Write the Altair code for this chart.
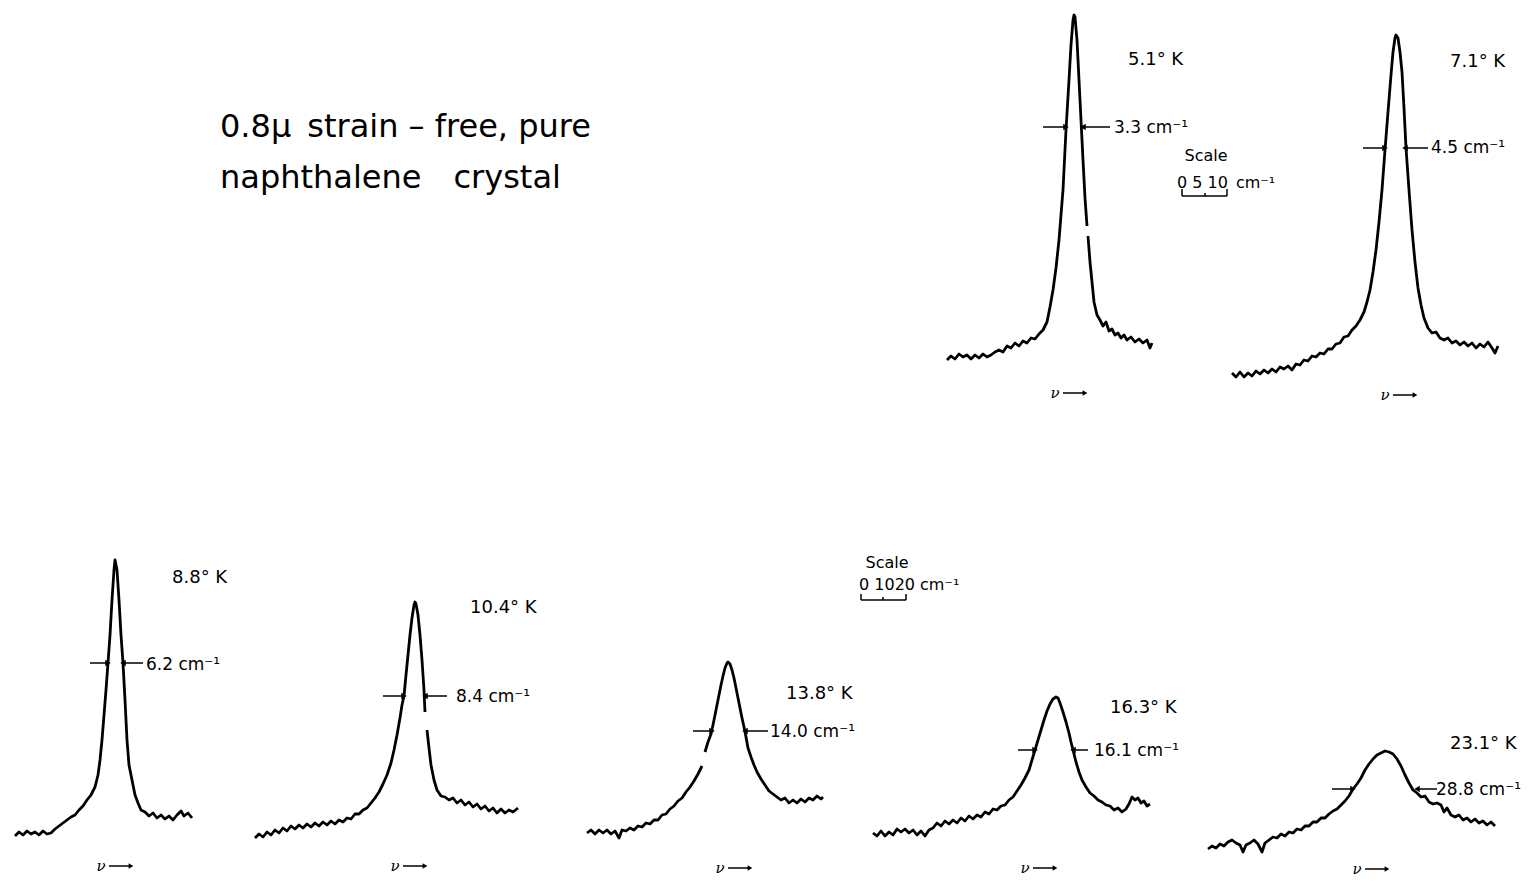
import altair as alt
import pandas as pd

c1_x = [947, 951, 955, 959, 963, 967, 971, 975, 979, 983, 987, 991, 995, 999, 1003, 1007, 1011, 1015, 1019, 1023, 1027, 1031, 1035, 1039, 1043, 1047, 1050, 1053, 1056, 1059, 1061, 1063, 1066, 1069, 1071, 1073, 1074, 1075, 1077, 1079, 1081, 1083, 1085, 1087, 1088, 1090, 1092, 1094, 1097, 1100, 1103, 1106, 1109, 1112, 1115, 1118, 1121, 1124, 1127, 1131, 1135, 1139, 1143, 1147, 1150, 1152]
c1_y = [360, 356, 359, 354, 357, 355, 359, 355, 358, 354, 357, 355, 352, 350, 352, 346, 348, 343, 346, 341, 343, 338, 339, 334, 330, 322, 307, 290, 268, 240, 215, 190, 130, 80, 45, 20, 15, 17, 40, 80, 120, 160, 198, 226, 236, 262, 282, 302, 315, 320, 326, 322, 331, 329, 335, 333, 338, 335, 340, 337, 342, 339, 343, 340, 348, 343]
c1_breaks = [44]

c2_x = [1232, 1236, 1240, 1244, 1248, 1252, 1256, 1260, 1264, 1268, 1272, 1276, 1280, 1284, 1288, 1292, 1296, 1300, 1304, 1308, 1312, 1316, 1320, 1324, 1328, 1332, 1336, 1340, 1344, 1348, 1352, 1356, 1360, 1364, 1367, 1370, 1373, 1376, 1379, 1382, 1385, 1388, 1391, 1393, 1395, 1396, 1398, 1400, 1402, 1404, 1406, 1409, 1412, 1415, 1418, 1421, 1424, 1428, 1432, 1436, 1440, 1444, 1448, 1452, 1456, 1460, 1464, 1468, 1472, 1476, 1480, 1484, 1488, 1492, 1495, 1498]
c2_y = [373, 377, 372, 377, 373, 376, 371, 374, 370, 373, 369, 372, 367, 369, 366, 370, 364, 365, 360, 361, 356, 357, 353, 354, 349, 349, 344, 343, 337, 336, 330, 326, 320, 312, 302, 290, 272, 250, 222, 190, 150, 112, 75, 52, 38, 35, 38, 52, 72, 108, 148, 190, 230, 262, 288, 305, 318, 328, 333, 332, 338, 340, 338, 343, 341, 345, 342, 346, 343, 348, 344, 347, 342, 348, 353, 346]
c2_breaks = []

c3_x = [15, 19, 23, 27, 31, 35, 39, 43, 47, 51, 55, 59, 63, 67, 71, 75, 79, 83, 87, 91, 95, 98, 100, 102, 104, 106, 108, 110, 112, 114, 115, 117, 119, 121, 123, 125, 127, 129, 132, 135, 138, 141, 145, 149, 153, 157, 161, 165, 169, 173, 177, 181, 184, 188, 192]
c3_y = [836, 832, 835, 831, 834, 832, 835, 831, 834, 833, 829, 826, 823, 820, 817, 815, 810, 806, 800, 795, 787, 775, 760, 740, 715, 690, 663, 635, 600, 570, 560, 570, 600, 635, 663, 700, 740, 765, 780, 795, 803, 810, 812, 816, 813, 818, 815, 819, 816, 820, 815, 811, 816, 813, 818]
c3_breaks = []

c4_x = [255, 259, 263, 267, 271, 275, 279, 283, 287, 291, 295, 299, 303, 307, 311, 315, 319, 323, 327, 331, 335, 339, 343, 347, 351, 355, 359, 363, 367, 371, 375, 379, 383, 387, 391, 394, 397, 400, 402, 404, 406, 408, 410, 412, 414, 415, 416, 418, 420, 422, 424, 425, 427, 429, 431, 434, 437, 441, 445, 449, 453, 457, 461, 465, 469, 473, 477, 481, 485, 489, 493, 497, 501, 505, 509, 513, 518]
c4_y = [838, 834, 837, 832, 835, 830, 833, 828, 831, 826, 829, 825, 828, 824, 827, 823, 826, 822, 825, 821, 824, 820, 822, 818, 819, 814, 814, 810, 808, 803, 798, 792, 784, 775, 763, 750, 735, 718, 705, 696, 675, 655, 635, 618, 605, 602, 604, 615, 635, 660, 690, 712, 730, 748, 765, 780, 790, 796, 797, 800, 798, 803, 800, 805, 802, 807, 804, 809, 806, 811, 808, 813, 809, 813, 810, 812, 808]
c4_breaks = [52]

c5_x = [587, 591, 595, 599, 603, 607, 611, 615, 619, 622, 626, 630, 634, 638, 642, 646, 650, 654, 658, 662, 666, 670, 674, 678, 682, 686, 690, 694, 698, 702, 705, 708, 711, 713, 715, 717, 719, 721, 723, 725, 727, 728, 730, 732, 734, 736, 738, 740, 742, 744, 746, 748, 751, 754, 757, 761, 765, 769, 773, 777, 781, 785, 789, 793, 797, 801, 805, 809, 813, 817, 821, 823]
c5_y = [833, 830, 834, 830, 833, 830, 834, 831, 838, 830, 831, 828, 830, 826, 827, 823, 824, 820, 820, 815, 814, 809, 806, 801, 798, 792, 787, 781, 774, 766, 752, 742, 734, 725, 715, 705, 695, 685, 676, 668, 663, 662, 664, 670, 678, 688, 698, 708, 718, 727, 737, 748, 757, 765, 772, 779, 785, 791, 794, 797, 800, 798, 803, 800, 803, 799, 802, 798, 800, 796, 799, 797]
c5_breaks = [30]

c6_x = [873, 877, 881, 885, 889, 893, 897, 901, 905, 909, 913, 917, 921, 925, 929, 933, 937, 941, 945, 949, 953, 957, 961, 965, 969, 973, 977, 981, 985, 989, 993, 997, 1001, 1005, 1009, 1013, 1017, 1021, 1025, 1029, 1032, 1035, 1038, 1041, 1044, 1047, 1050, 1053, 1056, 1058, 1060, 1063, 1066, 1069, 1071, 1073, 1076, 1079, 1082, 1086, 1090, 1094, 1098, 1102, 1106, 1110, 1114, 1118, 1122, 1126, 1129, 1132, 1135, 1138, 1141, 1144, 1147, 1150]
c6_y = [833, 836, 831, 836, 832, 835, 829, 832, 829, 833, 830, 835, 831, 836, 830, 828, 823, 826, 821, 824, 820, 823, 818, 821, 816, 819, 815, 817, 812, 814, 809, 810, 806, 805, 800, 797, 791, 785, 778, 770, 760, 750, 740, 730, 720, 711, 704, 699, 697, 698, 703, 712, 722, 733, 742, 750, 762, 772, 780, 787, 793, 796, 800, 802, 805, 806, 810, 808, 812, 809, 804, 797, 800, 798, 803, 801, 806, 804]
c6_breaks = []

c7_x = [1208, 1212, 1216, 1220, 1224, 1228, 1232, 1236, 1240, 1243, 1246, 1250, 1254, 1258, 1262, 1265, 1269, 1273, 1277, 1281, 1285, 1289, 1293, 1297, 1301, 1305, 1309, 1313, 1317, 1321, 1325, 1329, 1333, 1337, 1341, 1345, 1349, 1353, 1357, 1361, 1365, 1369, 1373, 1377, 1381, 1385, 1389, 1393, 1397, 1401, 1405, 1409, 1413, 1417, 1421, 1425, 1429, 1433, 1437, 1441, 1444, 1447, 1451, 1455, 1459, 1463, 1467, 1471, 1475, 1479, 1483, 1487, 1491, 1495]
c7_y = [849, 846, 848, 844, 846, 842, 840, 843, 845, 852, 845, 843, 840, 844, 852, 843, 840, 837, 838, 834, 836, 832, 833, 829, 830, 826, 826, 822, 822, 818, 818, 814, 811, 809, 805, 801, 796, 789, 784, 778, 770, 764, 759, 755, 753, 751, 752, 754, 759, 766, 775, 783, 790, 793, 797, 796, 802, 804, 803, 805, 812, 808, 815, 817, 815, 820, 818, 822, 819, 823, 821, 825, 822, 826]
c7_breaks = []

curves_x = [c1_x, c2_x, c3_x, c4_x, c5_x, c6_x, c7_x]
curves_y = [c1_y, c2_y, c3_y, c4_y, c5_y, c6_y, c7_y]
curves_breaks = [c1_breaks, c2_breaks, c3_breaks, c4_breaks, c5_breaks, c6_breaks, c7_breaks]

# temperature labels
temp_labels = ["5.1° K", "7.1° K", "8.8° K", "10.4° K", "13.8° K", "16.3° K", "23.1° K"]
temp_x = [1128, 1450, 172, 470, 786, 1110, 1450]
temp_y = [60, 62, 578, 608, 694, 708, 744]

# half-width labels
width_labels = ["3.3 cm⁻¹", "4.5 cm⁻¹", "6.2 cm⁻¹", "8.4 cm⁻¹", "14.0 cm⁻¹", "16.1 cm⁻¹", "28.8 cm⁻¹"]
width_x = [1114, 1431, 146, 456, 770, 1094, 1436]
width_y = [128, 148, 665, 697, 732, 751, 790]

# half-width arrows: (tail x, tip x, y)
arrow_tail = [1043, 1110, 1363, 1428, 90, 143, 383, 447, 693, 768, 1018, 1088, 1332, 1437]
arrow_tip = [1066, 1083, 1385, 1405, 108, 123, 404, 425, 712, 745, 1035, 1073, 1353, 1417]
arrow_y = [127, 127, 148, 148, 663, 663, 696, 696, 731, 731, 750, 750, 789, 789]

# nu-arrow labels below each trace
nu_x = [1055, 1385, 101, 395, 720, 1025, 1357]
nu_y = [393, 395, 866, 866, 868, 868, 869]

# scale bars
scale_word_x = [1206, 887]
scale_word_y = [156, 563]
scale_nums = ["0 5 10\u2002cm⁻¹", "0 1020 cm⁻¹"]
scale_nums_x = [1177, 859]
scale_nums_y = [183, 585]
bar_x0 = [1182, 861]
bar_x1 = [1227, 906]
bar_mid = [1205, 883]
bar_top = [189, 594]
bar_bot = [196, 600]

title_lines = ["0.8μ\u2002strain – free, pure", "naphthalene\u2002\u2002crystal"]
title_x = [220, 220]
title_y = [127, 178]

# ---------------------------------------------------------------------
FONT = "DejaVu Sans"
XS = alt.Scale(domain=[8, 1530])
YS = alt.Scale(domain=[8, 877], reverse=True)
X = alt.X("x:Q", scale=XS, axis=None)
Y = alt.Y("y:Q", scale=YS, axis=None)
X2 = alt.X2("x2:Q")
Y2 = alt.Y2("y2:Q")

rows = []
for k, (xs, ys, brs) in enumerate(zip(curves_x, curves_y, curves_breaks)):
    seg = 0
    for i, (a, b) in enumerate(zip(xs, ys)):
        if i in brs:
            seg += 1
        rows.append({"x": a, "y": b, "curve": f"{k}-{seg}", "i": i})
curves_df = pd.DataFrame(rows)

lines = alt.Chart(curves_df).mark_line(color="black", strokeWidth=2.8, strokeJoin="round").encode(
    x=X, y=Y, detail="curve:N", order="i:Q"
)

temp_df = pd.DataFrame({"x": temp_x, "y": temp_y, "t": temp_labels})
temps = alt.Chart(temp_df).mark_text(align="left", baseline="middle", font=FONT, fontSize=18, color="black").encode(
    x=X, y=Y, text="t:N"
)

wid_df = pd.DataFrame({"x": width_x, "y": width_y, "t": width_labels})
wids = alt.Chart(wid_df).mark_text(align="left", baseline="middle", font=FONT, fontSize=17, color="black").encode(
    x=X, y=Y, text="t:N"
)

arr_df = pd.DataFrame({"x": arrow_tail, "x2": arrow_tip, "y": arrow_y})
arr_df["dir"] = ["triangle-right" if b > a else "triangle-left" for a, b in zip(arrow_tail, arrow_tip)]
arr_lines = alt.Chart(arr_df).mark_rule(color="black", strokeWidth=1.5).encode(x=X, x2=X2, y=Y)
arr_heads = alt.Chart(arr_df).mark_point(filled=True, color="black", size=40, opacity=1).encode(
    x=alt.X("x2:Q", scale=XS, axis=None), y=Y,
    shape=alt.Shape("dir:N", scale=None)
)

nu_df = pd.DataFrame({"x": nu_x, "y": nu_y, "t": ["ν"] * len(nu_x)})
nu_df["ax"] = [v + 8 for v in nu_x]
nu_df["ax2"] = [v + 30 for v in nu_x]
nus = alt.Chart(nu_df).mark_text(align="center", baseline="middle", font="DejaVu Serif", fontStyle="italic",
                                  fontSize=15, color="black").encode(x=X, y=Y, text="t:N")
nu_lines = alt.Chart(nu_df).mark_rule(color="black", strokeWidth=1.5).encode(
    x=alt.X("ax:Q", scale=XS, axis=None), x2=alt.X2("ax2:Q"), y=Y
)
nu_heads = alt.Chart(nu_df).mark_point(shape="triangle-right", filled=True, color="black", size=30, opacity=1).encode(
    x=alt.X("ax2:Q", scale=XS, axis=None), y=Y
)

sw_df = pd.DataFrame({"x": scale_word_x, "y": scale_word_y, "t": ["Scale", "Scale"]})
sws = alt.Chart(sw_df).mark_text(align="center", baseline="middle", font=FONT, fontSize=16, color="black").encode(
    x=X, y=Y, text="t:N"
)
sn_df = pd.DataFrame({"x": scale_nums_x, "y": scale_nums_y, "t": scale_nums})
sns = alt.Chart(sn_df).mark_text(align="left", baseline="middle", font=FONT, fontSize=16, color="black").encode(
    x=X, y=Y, text="t:N"
)

seg = []
for a, b, m, t, btm in zip(bar_x0, bar_x1, bar_mid, bar_top, bar_bot):
    seg.append({"x": a, "x2": b, "y": btm, "y2": btm})
    seg.append({"x": a, "x2": a, "y": t, "y2": btm})
    seg.append({"x": b, "x2": b, "y": t, "y2": btm})
    seg.append({"x": m, "x2": m, "y": btm - 3, "y2": btm})
seg_df = pd.DataFrame(seg)
bars = alt.Chart(seg_df).mark_rule(color="black", strokeWidth=1.5).encode(x=X, x2=X2, y=Y, y2=Y2)

title_df = pd.DataFrame({"x": title_x, "y": title_y, "t": title_lines})
titles = alt.Chart(title_df).mark_text(align="left", baseline="middle", font=FONT, fontSize=32, color="black").encode(
    x=X, y=Y, text="t:N"
)

chart = alt.layer(
    lines, arr_lines, arr_heads, temps, wids, nus, nu_lines, nu_heads, sws, sns, bars, titles
).properties(
    width=1522, height=869, padding=0,
    autosize=alt.AutoSizeParams(type="none")
).configure(background="white", view=alt.ViewConfig(stroke=None))

chart.save("out.html", embed_options={"renderer": "svg", "actions": False})
